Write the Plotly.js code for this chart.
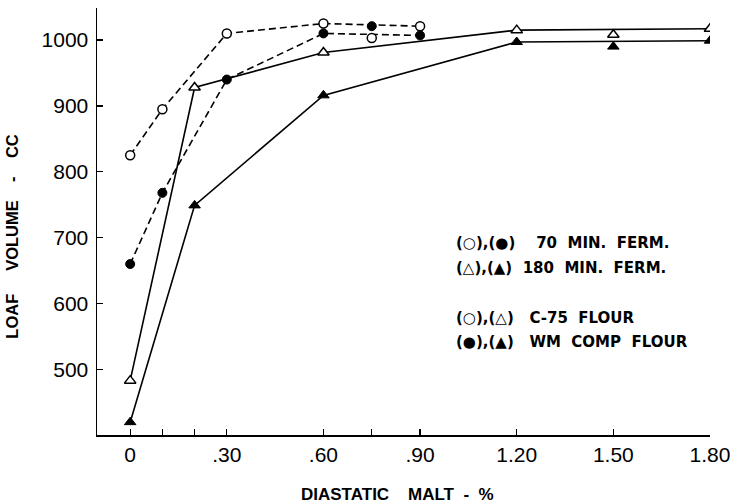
<!DOCTYPE html>
<html>
<head>
<meta charset="utf-8">
<script src="https://cdn.plot.ly/plotly-3.0.1.min.js"></script>
<style>html,body{margin:0;padding:0;background:#fff;}#chart{width:730px;height:503px;}</style>
</head>
<body>
<div id="chart"></div>
<script>
// Data (x: diastatic malt %, y: loaf volume cc)
const openCircleX   = [0, 0.1, 0.3, 0.6, 0.75, 0.9];
const openCircleY   = [825, 895, 1010, 1025, 1003, 1021];
const filledCircleX = [0, 0.1, 0.3, 0.6, 0.75, 0.9];
const filledCircleY = [660, 768, 940, 1010, 1021, 1007];
const openTriX      = [0, 0.2, 0.6, 1.2, 1.5, 1.8];
const openTriY      = [483, 928, 981, 1015, 1008, 1017];
const filledTriX    = [0, 0.2, 0.6, 1.2, 1.5, 1.8];
const filledTriY    = [420, 749, 916, 997, 990, 999];
// points the drawn curves pass by (not through)
const circleOffCurveX = [0.75];
const triOffCurveX    = [1.5];

const xTickVals = [0, 0.1, 0.2, 0.3, 0.6, 0.75, 0.9, 1.2, 1.5, 1.8];
const xTickText = ['0', '', '', '.30', '.60', '', '.90', '1.20', '1.50', '1.80'];
const yTickVals = [500, 600, 700, 800, 900, 1000];
const yTickText = ['500', '600', '700', '800', '900', '1000'];

const NB = '\u00A0';
const xTitle = 'DIASTATIC' + NB.repeat(4) + 'MALT' + NB.repeat(2) + '-' + NB.repeat(2) + '%';
const yTitle = 'LOAF' + NB.repeat(5) + 'VOLUME' + NB.repeat(4) + '-' + NB.repeat(4) + 'CC';
const legendLines = [
  '(\u25CB),(\u25CF)' + NB.repeat(4) + '70' + NB.repeat(2) + 'MIN.' + NB.repeat(2) + 'FERM.',
  '(\u25B3),(\u25B2)' + NB.repeat(2) + '180' + NB.repeat(2) + 'MIN.' + NB.repeat(2) + 'FERM.',
  '(\u25CB),(\u25B3)' + NB.repeat(3) + 'C-75' + NB.repeat(2) + 'FLOUR',
  '(\u25CF),(\u25B2)' + NB.repeat(3) + 'WM' + NB.repeat(2) + 'COMP' + NB.repeat(2) + 'FLOUR'
];
const legendY = [0.45, 0.391, 0.274, 0.218];

function curve(xs, ys, skip) {
  const cx = [], cy = [];
  xs.forEach((x, i) => { if (!skip.includes(x)) { cx.push(x); cy.push(ys[i]); } });
  return {x: cx, y: cy};
}

const lineW = 1.6;
const c1 = curve(openCircleX, openCircleY, circleOffCurveX);
const c2 = curve(filledCircleX, filledCircleY, circleOffCurveX);
const c3 = curve(openTriX, openTriY, triOffCurveX);
const c4 = curve(filledTriX, filledTriY, triOffCurveX);

const traces = [
  {x: c1.x, y: c1.y, mode: 'lines', line: {color: '#000', width: lineW, dash: '7px,4px'}, hoverinfo: 'skip'},
  {x: c2.x, y: c2.y, mode: 'lines', line: {color: '#000', width: lineW, dash: '7px,4px'}, hoverinfo: 'skip'},
  {x: c3.x, y: c3.y, mode: 'lines', line: {color: '#000', width: lineW}, hoverinfo: 'skip'},
  {x: c4.x, y: c4.y, mode: 'lines', line: {color: '#000', width: lineW}, hoverinfo: 'skip'},
  {x: openCircleX, y: openCircleY, mode: 'markers',
   marker: {symbol: 'circle', size: 9, color: '#fff', line: {color: '#000', width: 1.5}}},
  {x: filledCircleX, y: filledCircleY, mode: 'markers',
   marker: {symbol: 'circle', size: 9, color: '#000', line: {color: '#000', width: 1}}},
  {x: openTriX, y: openTriY, mode: 'markers',
   marker: {symbol: 'triangle-up', size: 10, color: '#fff', line: {color: '#000', width: 1.5}}},
  {x: filledTriX, y: filledTriY, mode: 'markers',
   marker: {symbol: 'triangle-up', size: 10, color: '#000', line: {color: '#000', width: 1}}}
];

const tickFont = {family: 'Liberation Sans, Arial, sans-serif', size: 21, color: '#000'};
const titleFont = {family: 'Liberation Sans, Arial, sans-serif', size: 17, color: '#000', weight: 'bold'};

const layout = {
  width: 730, height: 503,
  margin: {l: 97, r: 20, t: 8, b: 68},
  paper_bgcolor: '#fff', plot_bgcolor: '#fff',
  showlegend: false,
  xaxis: {
    range: [-0.103, 1.8], showgrid: false, zeroline: false,
    showline: true, linecolor: '#000', linewidth: 1.5,
    ticks: 'inside', ticklen: 6, tickwidth: 1.3, tickcolor: '#000',
    tickmode: 'array', tickvals: xTickVals, ticktext: xTickText,
    tickfont: tickFont, ticklabelstandoff: 0, ticklabeloverflow: 'allow'
  },
  yaxis: {
    range: [400.5, 1048.6], showgrid: false, zeroline: false,
    showline: true, linecolor: '#000', linewidth: 1.5,
    ticks: 'inside', ticklen: 6, tickwidth: 1.3, tickcolor: '#000',
    tickmode: 'array', tickvals: yTickVals, ticktext: yTickText,
    tickfont: tickFont, ticklabelstandoff: 3
  },
  annotations: [
    {xref: 'paper', yref: 'paper', x: 0.491, y: -0.1405, xanchor: 'center', yanchor: 'middle',
     showarrow: false, text: xTitle, font: titleFont},
    {xref: 'paper', yref: 'paper', x: -0.139, y: 0.464, xanchor: 'center', yanchor: 'middle',
     showarrow: false, textangle: -90, text: yTitle, font: Object.assign({}, titleFont, {size: 16.5})}
  ].concat(legendLines.map((t, i) => ({
    xref: 'paper', yref: 'paper', x: 0.582, y: legendY[i],
    xanchor: 'left', yanchor: 'middle', showarrow: false, text: t,
    font: {family: 'DejaVu Sans, sans-serif', size: 15, color: '#000', weight: 'bold'}
  })))
};

Plotly.newPlot('chart', traces, layout, {staticPlot: true, displayModeBar: false});
</script>
</body>
</html>
